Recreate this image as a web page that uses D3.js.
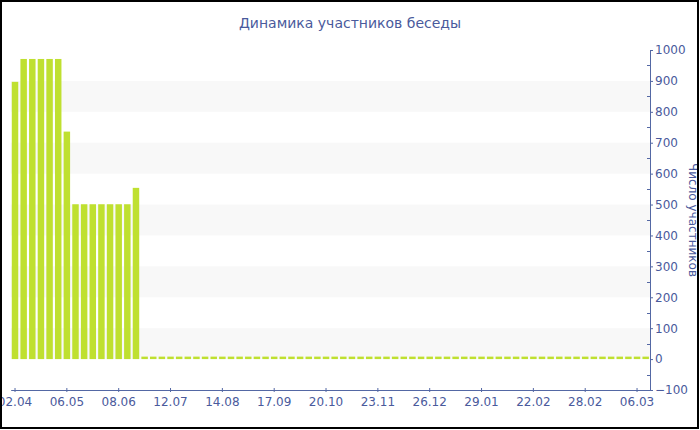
<!DOCTYPE html>
<html><head><meta charset="utf-8">
<script src="https://cdn.jsdelivr.net/npm/d3@7"></script>
<style>
html,body{margin:0;padding:0;background:#fff;}
svg{display:block;font-family:"DejaVu Sans",Verdana,sans-serif;}
</style></head>
<body>
<svg id="chart" width="700" height="430"></svg>
<script>
const title = "Динамика участников беседы";
const yTitle = "Число участников";
const categories = [
 "02.04","08.04","13.04","19.04","25.04","30.04",
 "06.05","11.05","17.05","22.05","28.05","02.06",
 "08.06","14.06","19.06","25.06","01.07","06.07",
 "12.07","17.07","23.07","28.07","03.08","08.08",
 "14.08","20.08","25.08","31.08","06.09","11.09",
 "17.09","22.09","28.09","03.10","09.10","14.10",
 "20.10","26.10","31.10","06.11","12.11","17.11",
 "23.11","28.11","04.12","09.12","15.12","20.12",
 "26.12","01.01","06.01","12.01","18.01","23.01",
 "29.01","02.02","06.02","10.02","14.02","18.02",
 "22.02","23.02","24.02","25.02","26.02","27.02",
 "28.02","01.03","02.03","03.03","04.03","05.03",
 "06.03","07.03"
];
const values = [
 897,971,971,971,971,971,
 736,501,501,501,501,501,
 501,501,554,8,8,8,
 8,8,8,8,8,8,
 8,8,8,8,8,8,
 8,8,8,8,8,8,
 8,8,8,8,8,8,
 8,8,8,8,8,8,
 8,8,8,8,8,8,
 8,8,8,8,8,8,
 8,8,8,8,8,8,
 8,8,8,8,8,8,
 8,8
];
const tickLabels = ["02.04","06.05","08.06","12.07","14.08","17.09","20.10","23.11","26.12","29.01","22.02","28.02","06.03"];
const yTicks = [-100,0,100,200,300,400,500,600,700,800,900,1000];
const bandStarts = [0,200,400,600,800];

const svg = d3.select("#chart");
const textColor = "#4a5a9c";
const axisColor = "#5468a4";
const barColor = "#bfe030";

const x = d3.scaleBand().domain(categories).range([10.7, 650]).paddingInner(0.25).paddingOuter(0.125);
const y = d3.scaleLinear().domain([-100, 1000]).range([390, 50]);

// alternating bands
svg.append("g").selectAll("rect").data(bandStarts).join("rect")
  .attr("x", 10.7).attr("width", 650 - 10.7)
  .attr("y", d => y(d + 100)).attr("height", d => y(d) - y(d + 100))
  .attr("fill", "#f8f8f8");

// bars
svg.append("g").selectAll("rect").data(values).join("rect")
  .attr("x", (d, i) => x(categories[i]))
  .attr("width", x.bandwidth())
  .attr("y", d => y(d))
  .attr("height", d => y(0) - y(d))
  .attr("fill", barColor);

// x axis
const xAxis = d3.axisBottom(x).tickValues(tickLabels).tickSize(2).tickSizeOuter(0).tickPadding(5);
const gx = svg.append("g").attr("transform", "translate(0,390)").call(xAxis);
gx.select(".domain").attr("stroke", axisColor);
gx.selectAll(".tick line").attr("stroke", axisColor).attr("y1", -2).attr("y2", 2);
gx.selectAll(".tick text").attr("fill", textColor).attr("font-size", 12).attr("font-family", "DejaVu Sans, Verdana, sans-serif");

// y minor ticks (left side)
const minor = d3.range(-50, 1000, 100);
svg.append("g").selectAll("line").data(minor).join("line")
  .attr("x1", 647).attr("x2", 650)
  .attr("y1", d => Math.round(y(d)) + 0.5).attr("y2", d => Math.round(y(d)) + 0.5)
  .attr("stroke", axisColor);

// y axis (right)
const yAxis = d3.axisRight(y).tickValues(yTicks).tickFormat(d3.format("d")).tickSize(3).tickSizeOuter(0).tickPadding(2);
const gy = svg.append("g").attr("transform", "translate(650,0)").call(yAxis);
gy.select(".domain").attr("stroke", axisColor);
gy.selectAll(".tick line").attr("stroke", axisColor);
gy.selectAll(".tick text").attr("fill", textColor).attr("font-size", 12).attr("font-family", "DejaVu Sans, Verdana, sans-serif");

// title
svg.append("text").attr("x", 350).attr("y", 28).attr("text-anchor", "middle")
  .attr("font-size", 14).attr("fill", textColor).text(title);

// y title
svg.append("text").attr("transform", "translate(689,220) rotate(90)")
  .attr("text-anchor", "middle").attr("font-size", 12).attr("fill", textColor).text(yTitle);

// frame
svg.append("rect").attr("x", 1).attr("y", 1).attr("width", 697).attr("height", 427)
  .attr("fill", "none").attr("stroke", "#000").attr("stroke-width", 2);
</script>
</body></html>
